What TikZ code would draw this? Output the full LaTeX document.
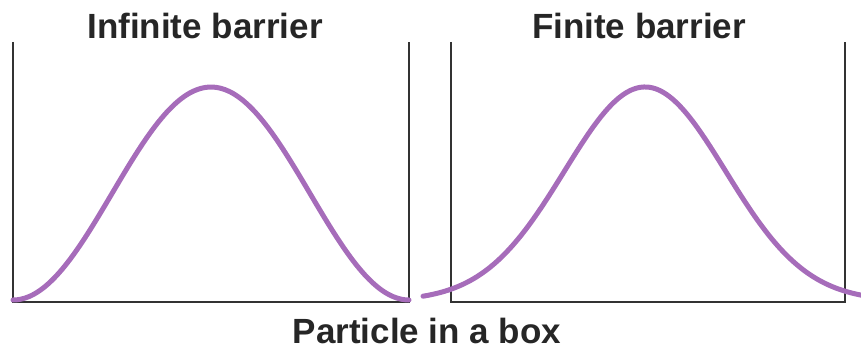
\documentclass[tikz,border=0pt]{standalone}
\usepackage{fontspec}
\setmainfont{Liberation Sans}
\usetikzlibrary{positioning}

\definecolor{purplewave}{RGB}{166,108,186}
\tikzset{
  wall/.style={line width=1.6pt, draw=black!80},
  wave/.style={line width=5pt, draw=purplewave, line cap=round},
  title/.style={font=\bfseries\fontsize{35}{40}\selectfont, text=black!85, inner sep=0pt}
}

\begin{document}
\begin{tikzpicture}[x=1pt, y=-1pt]
      \useasboundingbox (0,0) rectangle (861,350);
      % boxes
      \draw [wall] (13,42) -- (13,302) -- (409,302) -- (409,42);
      \draw [wall] (451,42) -- (451,302) -- (845,302) -- (845,42);

      % wave functions
      \draw [wave] plot[domain=13:409, samples=100, smooth]
            (\x, {300-213*pow(sin((\x-13)*0.4545),2)});
      \draw [wave] plot[domain=423:861, samples=100, smooth]
            (\x, {301-214*exp(-pow((\x-645)/114,2))});

      \node [title, anchor=base] (inftitle) at (205,39) {Infinite barrier};
      \node [title, anchor=base] (fintitle) at (639,39) {Finite barrier};
      \node [title, anchor=base] (caption) at (427,343) {Particle in a box};
\end{tikzpicture}
\end{document}
